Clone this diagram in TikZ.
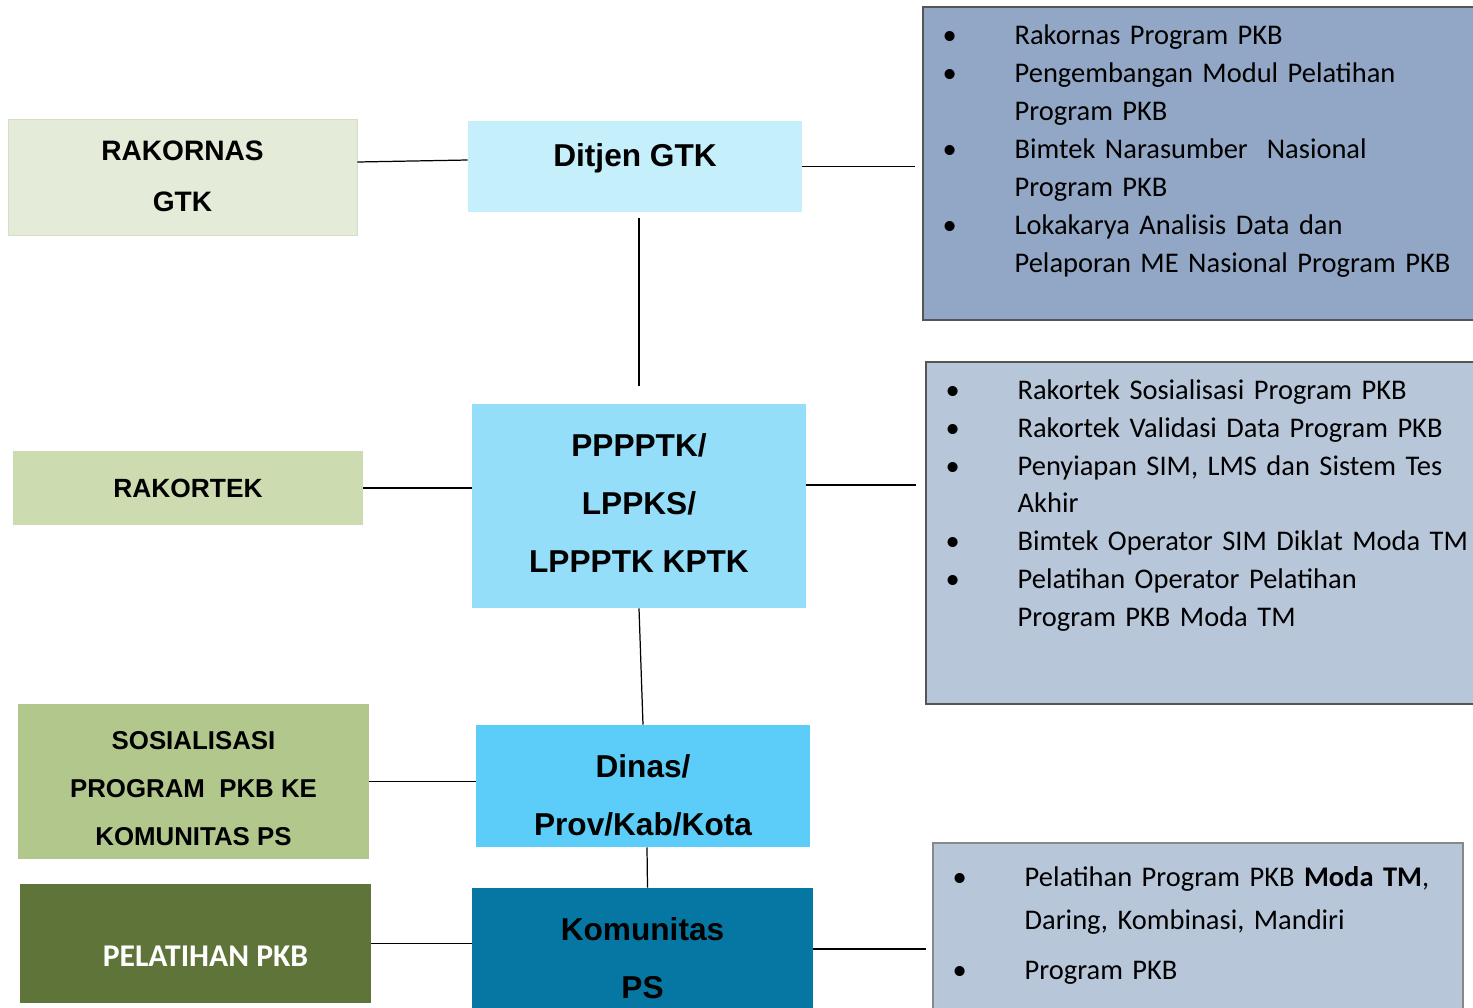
\documentclass[tikz,border=0pt]{standalone}
\usepackage{fontspec}
\setmainfont{Carlito}
\newfontfamily\arialfont{Liberation Sans}
\usepackage{tikz}
\usetikzlibrary{positioning, calc}
\usepackage{xcolor}
\definecolor{rakornashijau}{RGB}{228,235,216}
\definecolor{rakornastepi}{RGB}{212,222,196}
\definecolor{rakortekhijau}{RGB}{204,219,176}
\definecolor{sosialhijau}{RGB}{178,199,140}
\definecolor{pelatihanhijau}{RGB}{94,116,56}
\definecolor{ditjenbiru}{RGB}{198,239,252}
\definecolor{pusatbiru}{RGB}{148,222,250}
\definecolor{dinasbiru}{RGB}{91,205,248}
\definecolor{komunitasbiru}{RGB}{6,119,163}
\definecolor{kananatas}{RGB}{146,167,197}
\definecolor{kananmuda}{RGB}{184,198,218}
\definecolor{tepi}{RGB}{85,85,85}
\tikzstyle{kotak} = [rectangle, inner sep=0pt]
\tikzstyle{kiri} = [align=center, inner sep=0pt, font=\arialfont\bfseries\fontsize{16}{29}\selectfont]
\tikzstyle{tengah} = [align=center, inner sep=0pt, font=\arialfont\bfseries\fontsize{18}{33}\selectfont]
\tikzstyle{kanan} = [rectangle, draw=tepi, line width=0.8pt, inner sep=0pt]
\tikzstyle{isi} = [anchor=north west, inner sep=0pt, text width=11cm, align=left, font=\fontsize{16.2}{21.6}\selectfont, execute at begin node={\lineskip=0pt}]
\tikzstyle{garis} = [black, line width=0.7pt]
\newcommand{\butir}[1]{\par\noindent\makebox[1.44cm][l]{\textbullet}\parbox[t]{9.5cm}{\raggedright\strut#1\strut}}

\begin{document}
\begin{tikzpicture}
\useasboundingbox (0,0) rectangle (29.46,-20.14);

% Kotak kiri
\node[kotak, fill=rakornashijau, draw=rakornastepi, minimum width=6.98cm, minimum height=2.32cm] (rakornas) at (3.65,-3.54) {};
\node[kiri] (rakornast) at ([yshift=0.02cm]rakornas) {RAKORNAS\\GTK};

\node[kotak, fill=rakortekhijau, minimum width=7cm, minimum height=1.48cm] (rakortek) at (3.76,-9.76) {};
\node[kiri, font=\arialfont\bfseries\fontsize{15}{27}\selectfont] (rakortekt) at (rakortek) {RAKORTEK};

\node[kotak, fill=sosialhijau, minimum width=7.02cm, minimum height=3.1cm] (sosial) at (3.87,-15.63) {};
\node[kiri, font=\arialfont\bfseries\fontsize{14.7}{27.3}\selectfont] (sosialt) at ([yshift=-0.14cm]sosial) {SOSIALISASI\\PROGRAM~ PKB KE\\KOMUNITAS PS};

\node[kotak, fill=pelatihanhijau, minimum width=7.02cm, minimum height=2.38cm] (pelatihan) at (3.91,-18.87) {};
\node[kiri, text=white, font=\bfseries\fontsize{18}{29}\selectfont] (pelatihant) at ([xshift=0.2cm, yshift=-0.26cm]pelatihan) {PELATIHAN PKB};

% Kotak tengah
\node[kotak, fill=ditjenbiru, minimum width=6.68cm, minimum height=1.82cm] (ditjen) at (12.70,-3.33) {};
\node[tengah] (ditjent) at ([yshift=0.16cm]ditjen) {Ditjen GTK};

\node[kotak, fill=pusatbiru, minimum width=6.68cm, minimum height=4.08cm] (pusat) at (12.78,-10.12) {};
\node[tengah] (pusatt) at ([yshift=0.06cm]pusat) {PPPPTK/\\LPPKS/\\LPPPTK KPTK};

\node[kotak, fill=dinasbiru, minimum width=6.68cm, minimum height=2.44cm] (dinas) at (12.86,-15.72) {};
\node[tengah] (dinast) at ([yshift=-0.19cm]dinas) {Dinas/\\Prov/Kab/Kota};

\node[kotak, fill=komunitasbiru, minimum width=6.82cm, minimum height=2.44cm] (komunitas) at (12.85,-18.98) {};
\node[tengah] (komunitast) at ([yshift=-0.19cm]komunitas) {Komunitas\\PS};

% Kotak kanan
\node[kanan, fill=kananatas, minimum width=11.14cm, minimum height=6.26cm] (atas) at (24.03,-3.27) {};
\node[kanan, fill=kananmuda, minimum width=11.08cm, minimum height=6.84cm] (tengahkanan) at (24.06,-10.66) {};
\node[kanan, fill=kananmuda, draw=tepi!70, minimum width=10.6cm, minimum height=3.38cm] (bawah) at (23.96,-18.55) {};

\node[isi] (isiatas) at ([xshift=0.4cm, yshift=0cm]atas.north west) {
    \butir{Rakornas Program PKB}
    \butir{Pengembangan Modul Pelatihan\\Program PKB}
    \butir{Bimtek Narasumber~ Nasional\\Program PKB}
    \butir{Lokakarya Analisis Data dan\\Pelaporan ME Nasional Program PKB}
};
\node[isi] (isitengah) at ([xshift=0.4cm, yshift=0.01cm]tengahkanan.north west) {
    \butir{Rakortek Sosialisasi Program PKB}
    \butir{Rakortek Validasi Data Program PKB}
    \butir{Penyiapan SIM, LMS dan Sistem Tes\\Akhir}
    \butir{Bimtek Operator SIM Diklat Moda TM}
    \butir{Pelatihan Operator Pelatihan\\Program PKB Moda TM}
};
\node[isi, font=\fontsize{16.2}{24.5}\selectfont] (isibawah) at ([xshift=0.4cm, yshift=0.12cm]bawah.north west) {
    \setlength{\parskip}{4pt}
    \butir{Pelatihan Program PKB \textbf{Moda TM},\\Daring, Kombinasi, Mandiri}
    \butir{Program PKB}
};

% Garis
\draw[garis] ([yshift=0.3cm]rakornas.east) -- ([yshift=0.13cm]ditjen.west);
\draw[garis, shorten >=0.14cm] (ditjen.east) -- (ditjen.east -| atas.west);
\draw[garis, shorten <=0.12cm, shorten >=0.36cm] (pusat.north |- ditjen.south) -- (pusat.north);
\draw[garis] (rakortek.east) -- (rakortek.east -| pusat.west);
\draw[garis, shorten >=0.18cm] ([yshift=0.42cm]pusat.east) -- ([yshift=0.42cm]pusat.east -| tengahkanan.west);
\draw[garis] (pusat.south) -- (dinas.north);
\draw[garis] (sosial.east) -- (sosial.east -| dinas.west);
\draw[garis] ([xshift=0.08cm]dinas.south) -- ([xshift=0.1cm]komunitas.north);
\draw[garis] (pelatihan.east) -- (pelatihan.east -| komunitas.west);
\draw[garis, shorten >=0.12cm] (komunitas.east) -- (komunitas.east -| bawah.west);
\end{tikzpicture}
\end{document}
